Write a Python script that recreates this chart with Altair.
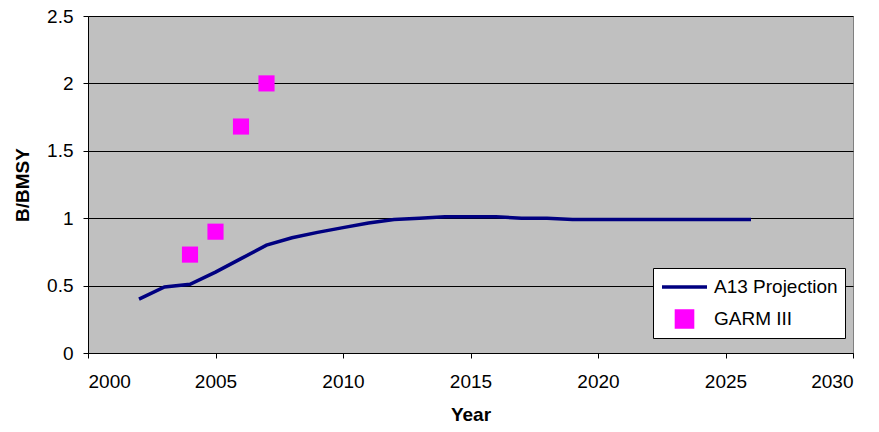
import altair as alt
import pandas as pd

line_years = [2002, 2003, 2004, 2005, 2006, 2007, 2008, 2009, 2010, 2011, 2012, 2013, 2014,
              2015, 2016, 2017, 2018, 2019, 2020, 2021, 2022, 2023, 2024, 2025, 2026]
line_values = [0.40, 0.49, 0.51, 0.60, 0.70, 0.80, 0.855, 0.895, 0.93, 0.965, 0.99, 1.0, 1.01,
               1.01, 1.01, 1.0, 1.0, 0.99, 0.99, 0.99, 0.99, 0.99, 0.99, 0.99, 0.99]
garm_years = [2004, 2005, 2006, 2007]
garm_values = [0.73, 0.90, 1.68, 2.00]
series_names = ["A13 Projection", "GARM III"]
series_colors = ["#000080", "#FF00FF"]

df_line = pd.DataFrame({"Year": line_years, "Value": line_values, "series": series_names[0]})
df_garm = pd.DataFrame({"Year": garm_years, "Value": garm_values, "series": series_names[1]})

FONT = "Liberation Sans"

x_enc = alt.X("Year:Q", scale=alt.Scale(domain=[2000, 2030], nice=False, zero=False),
              axis=alt.Axis(values=[2000, 2005, 2010, 2015, 2020, 2025, 2030], format="d",
                            grid=False, title="Year", labelPadding=14, titlePadding=14))
y_enc = alt.Y("Value:Q", scale=alt.Scale(domain=[0, 2.5], nice=False),
              axis=alt.Axis(values=[0, 0.5, 1, 1.5, 2, 2.5], format="~g", grid=True,
                            title="B/BMSY", labelPadding=10, titlePadding=14))

legend = alt.Legend(
    title=None, orient="none", legendX=565, legendY=252,
    fillColor="white", strokeColor="black", padding=7,
    labelFont=FONT, labelFontSize=19, labelColor="black", labelOffset=5,
    clipHeight=24, rowPadding=8, symbolStrokeWidth=3.5, symbolOpacity=1,
)

color_enc = alt.Color("series:N", scale=alt.Scale(domain=series_names, range=series_colors),
                      legend=legend)
stroke_enc = alt.Stroke("series:N", scale=alt.Scale(domain=series_names, range=series_colors),
                        legend=legend)
shape_enc = alt.Shape("series:N", scale=alt.Scale(domain=series_names, range=["stroke", "square"]),
                      legend=legend)
size_enc = alt.Size("series:N", scale=alt.Scale(domain=series_names, range=[2025, 260]),
                    legend=legend)

line = alt.Chart(df_line).mark_line(strokeWidth=3.5).encode(x=x_enc, y=y_enc, color=color_enc)
points = alt.Chart(df_garm).mark_point(filled=True, opacity=1, strokeWidth=0).encode(
    x=x_enc, y=y_enc, color=color_enc, stroke=stroke_enc, shape=shape_enc, size=size_enc)

chart = alt.layer(line, points).properties(
    width=765, height=337,
    autosize=alt.AutoSizeParams(type="none"),
    padding={"left": 80, "top": 8, "right": 18, "bottom": 71},
    background="white",
).configure_view(
    fill="#C0C0C0", stroke="#808080", strokeWidth=1
).configure_axis(
    labelFont=FONT, labelFontSize=19, labelColor="black",
    titleFont=FONT, titleFontSize=19, titleFontWeight="bold", titleColor="black",
    domainColor="black", tickColor="black", tickSize=5, gridColor="black", gridWidth=1,
    gridOpacity=1, domainWidth=1,
)

chart.save("out.html", embed_options={"renderer": "svg", "actions": False})
